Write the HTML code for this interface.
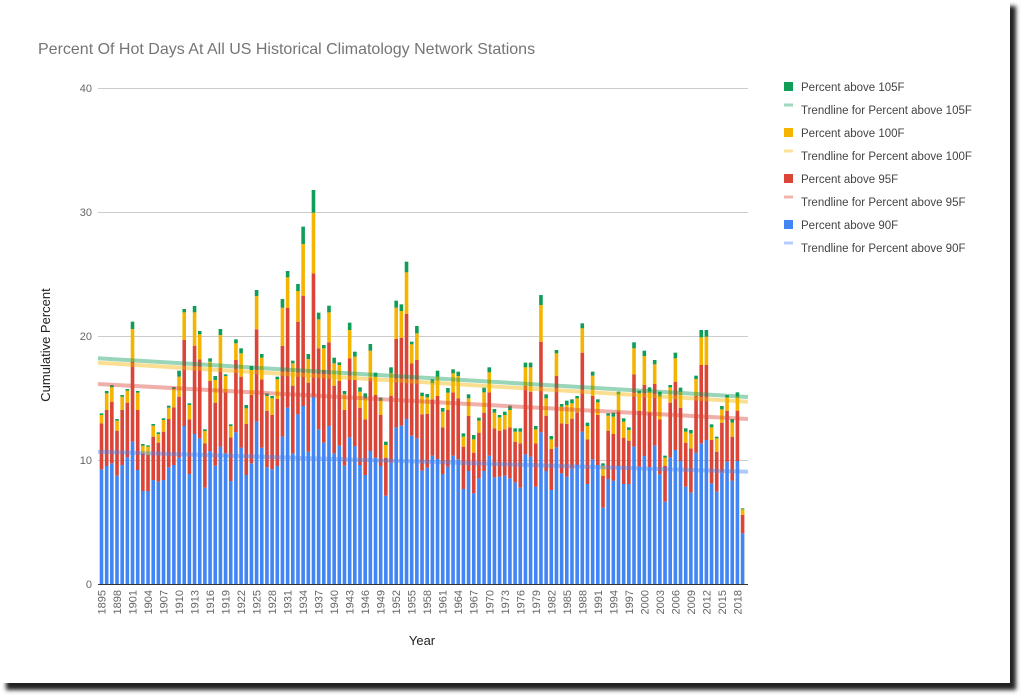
<!DOCTYPE html>
<html><head><meta charset="utf-8"><style>
html,body{margin:0;padding:0;background:#fff;}
svg{display:block;font-family:"Liberation Sans",Arial,sans-serif;}
</style></head><body>
<svg id="s" width="1024" height="698" viewBox="0 0 1024 698" xmlns="http://www.w3.org/2000/svg">
<defs><filter id="sh" x="-5%" y="-5%" width="110%" height="110%"><feGaussianBlur stdDeviation="2"/></filter></defs>
<rect x="0" y="0" width="1024" height="698" fill="#fff"/>
<rect x="6" y="6" width="1010" height="684" fill="#222" filter="url(#sh)"/>
<rect x="1" y="1" width="1009" height="682" fill="#fff"/>
<text x="38" y="54" font-size="16" fill="#757575">Percent Of Hot Days At All US Historical Climatology Network Stations</text>
<g stroke="#cccccc" stroke-width="1">
<line x1="98" y1="88.5" x2="748" y2="88.5"/><line x1="98" y1="212.5" x2="748" y2="212.5"/><line x1="98" y1="336.5" x2="748" y2="336.5"/><line x1="98" y1="460.5" x2="748" y2="460.5"/>
</g>
<g font-size="11" fill="#666" text-anchor="end">
<text x="92" y="92">40</text><text x="92" y="216">30</text><text x="92" y="340">20</text><text x="92" y="464">10</text><text x="92" y="588">0</text>
</g>
<text transform="translate(50,345) rotate(-90)" font-size="13" fill="#222" text-anchor="middle">Cumulative Percent</text>
<text x="422" y="645" font-size="13" fill="#222" text-anchor="middle">Year</text>
<g id="bars"></g>
<line x1="98" y1="584.5" x2="748" y2="584.5" stroke="#333" stroke-width="1"/>
<g stroke-width="4" stroke-linecap="butt" opacity="0.42">
<line x1="98" y1="358.3" x2="748" y2="397" stroke="#0f9d58"/>
<line x1="98" y1="362.7" x2="748" y2="401.7" stroke="#f4b400"/>
<line x1="98" y1="384" x2="748" y2="419" stroke="#db4437"/>
<line x1="98" y1="451.7" x2="748" y2="471.7" stroke="#4285f4"/>
</g>
<g font-size="11" fill="#666" text-anchor="end">
<text transform="translate(105.5,590) rotate(-90)">1895</text><text transform="translate(121,590) rotate(-90)">1898</text><text transform="translate(136.5,590) rotate(-90)">1901</text><text transform="translate(152,590) rotate(-90)">1904</text><text transform="translate(167.5,590) rotate(-90)">1907</text><text transform="translate(183.1,590) rotate(-90)">1910</text><text transform="translate(198.6,590) rotate(-90)">1913</text><text transform="translate(214.1,590) rotate(-90)">1916</text><text transform="translate(229.6,590) rotate(-90)">1919</text><text transform="translate(245.1,590) rotate(-90)">1922</text><text transform="translate(260.6,590) rotate(-90)">1925</text><text transform="translate(276.1,590) rotate(-90)">1928</text><text transform="translate(291.6,590) rotate(-90)">1931</text><text transform="translate(307.1,590) rotate(-90)">1934</text><text transform="translate(322.6,590) rotate(-90)">1937</text><text transform="translate(338.2,590) rotate(-90)">1940</text><text transform="translate(353.7,590) rotate(-90)">1943</text><text transform="translate(369.2,590) rotate(-90)">1946</text><text transform="translate(384.7,590) rotate(-90)">1949</text><text transform="translate(400.2,590) rotate(-90)">1952</text><text transform="translate(415.7,590) rotate(-90)">1955</text><text transform="translate(431.2,590) rotate(-90)">1958</text><text transform="translate(446.7,590) rotate(-90)">1961</text><text transform="translate(462.2,590) rotate(-90)">1964</text><text transform="translate(477.7,590) rotate(-90)">1967</text><text transform="translate(493.3,590) rotate(-90)">1970</text><text transform="translate(508.8,590) rotate(-90)">1973</text><text transform="translate(524.3,590) rotate(-90)">1976</text><text transform="translate(539.8,590) rotate(-90)">1979</text><text transform="translate(555.3,590) rotate(-90)">1982</text><text transform="translate(570.8,590) rotate(-90)">1985</text><text transform="translate(586.3,590) rotate(-90)">1988</text><text transform="translate(601.8,590) rotate(-90)">1991</text><text transform="translate(617.3,590) rotate(-90)">1994</text><text transform="translate(632.8,590) rotate(-90)">1997</text><text transform="translate(648.4,590) rotate(-90)">2000</text><text transform="translate(663.9,590) rotate(-90)">2003</text><text transform="translate(679.4,590) rotate(-90)">2006</text><text transform="translate(694.9,590) rotate(-90)">2009</text><text transform="translate(710.4,590) rotate(-90)">2012</text><text transform="translate(725.9,590) rotate(-90)">2015</text><text transform="translate(741.4,590) rotate(-90)">2018</text>
</g>
<g font-size="11.5" fill="#444">
<rect x="784" y="82" width="9" height="9" fill="#0f9d58"/><text x="801" y="91">Percent above 105F</text>
<rect x="784" y="103.5" width="9" height="3" fill="#0f9d58" opacity="0.4"/><text x="801" y="114">Trendline for Percent above 105F</text>
<rect x="784" y="128" width="9" height="9" fill="#f4b400"/><text x="801" y="137">Percent above 100F</text>
<rect x="784" y="149.5" width="9" height="3" fill="#f4b400" opacity="0.4"/><text x="801" y="160">Trendline for Percent above 100F</text>
<rect x="784" y="174" width="9" height="9" fill="#db4437"/><text x="801" y="183">Percent above 95F</text>
<rect x="784" y="195.5" width="9" height="3" fill="#db4437" opacity="0.4"/><text x="801" y="206">Trendline for Percent above 95F</text>
<rect x="784" y="220" width="9" height="9" fill="#4285f4"/><text x="801" y="229">Percent above 90F</text>
<rect x="784" y="241.5" width="9" height="3" fill="#4285f4" opacity="0.4"/><text x="801" y="252">Trendline for Percent above 90F</text>
</g>
</svg>
<script>
var d=[[868,730,705,700],[858,690,640,633],[850,665,622,615],[887,752,722,717],[855,690,650,645],[832,668,632,627],[785,545,447,425],[870,690,638,633],[933,820,797,792],[933,825,800,796],[900,770,737,732],[905,788,762,757],[900,755,720,715],[862,717,683,677],[855,682,627,621],[833,650,590,572],[738,480,397,387],[882,718,675,670],[762,497,397,378],[775,538,463,453],[923,790,753,748],[813,603,545,535],[857,668,600,588],[800,563,465,447],[820,637,588,583],[903,772,738,733],[757,540,490,478],[803,590,520,505],[885,732,685,675],[850,645,570,558],[725,448,348,330],[803,598,533,522],[862,693,648,640],[868,705,655,648],[858,657,598,590],[770,498,383,357],[683,383,292,273],[820,617,550,542],[703,425,333,312],[678,347,192,140],[815,608,537,522],[650,280,98,30],
[748,505,418,398],[788,570,505,495],[738,487,397,377],[820,617,550,533],[797,603,555,547],[857,690,643,633],[772,535,450,428],[798,600,530,515],[855,683,635,622],[885,718,655,640],[813,593,512,492],[833,645,590,578],[858,705,662,653],[947,833,795,785],[848,647,580,562],[742,477,383,362],[737,473,393,373],[717,402,277,245],[767,550,493,485],[775,540,460,438],[872,703,648,638],[863,702,652,642],[827,658,610,598],[837,648,590,572],[882,742,695,684],[860,690,638,624],[827,637,580,568],[838,655,588,575],[927,800,770,760],[873,708,655,643],[940,818,778,765],[895,758,722,713],[873,698,637,623],[827,637,577,562],[892,745,698,687],[890,752,712,705],[887,748,705,695],[895,742,690,677],[907,785,755,745],[923,790,755,745],[823,618,562,548],
[830,635,562,548],[920,790,748,738],[757,485,375,345],[873,707,655,643],[930,807,778,768],[802,588,520,510],[880,730,680,672],[890,732,675,662],[866,716,670,658],[855,697,655,648],[755,518,445,430],[912,778,738,728],[838,648,587,575],[855,705,667,658],[983,887,857,850],[897,752,707,700],[902,762,710,698],[858,695,643,635],[912,773,725,715],[912,782,750,742],[800,583,505,487],[860,692,640,632],[828,615,528,512],[862,697,635,622],[797,612,553,540],[883,718,650,635],[965,857,833,827],[832,668,622,615],[810,605,535,518],[843,683,635,623],[920,788,755,745],[938,805,760,750],[818,648,597,587],[790,555,472,450],[780,555,470,450],[910,780,742,733],[935,815,775,770],[878,728,688,678],[845,692,652,645],[902,770,728,717],[843,692,650,637],[1060,1005,988,985]];
var c=["#4285f4","#db4437","#f4b400","#0f9d58"],h="";
for(var i=0;i<d.length;i++){var x=101.5+5.17*i-1.8;var prev=584;for(var j=0;j<4;j++){var y=180+d[i][j]/3;if(y>prev)y=prev;h+='<rect x="'+x.toFixed(2)+'" y="'+y.toFixed(2)+'" width="3.6" height="'+(prev-y).toFixed(2)+'" fill="'+c[j]+'"/>';prev=y;}}
document.getElementById("bars").innerHTML=h;
</script>
</body></html>
